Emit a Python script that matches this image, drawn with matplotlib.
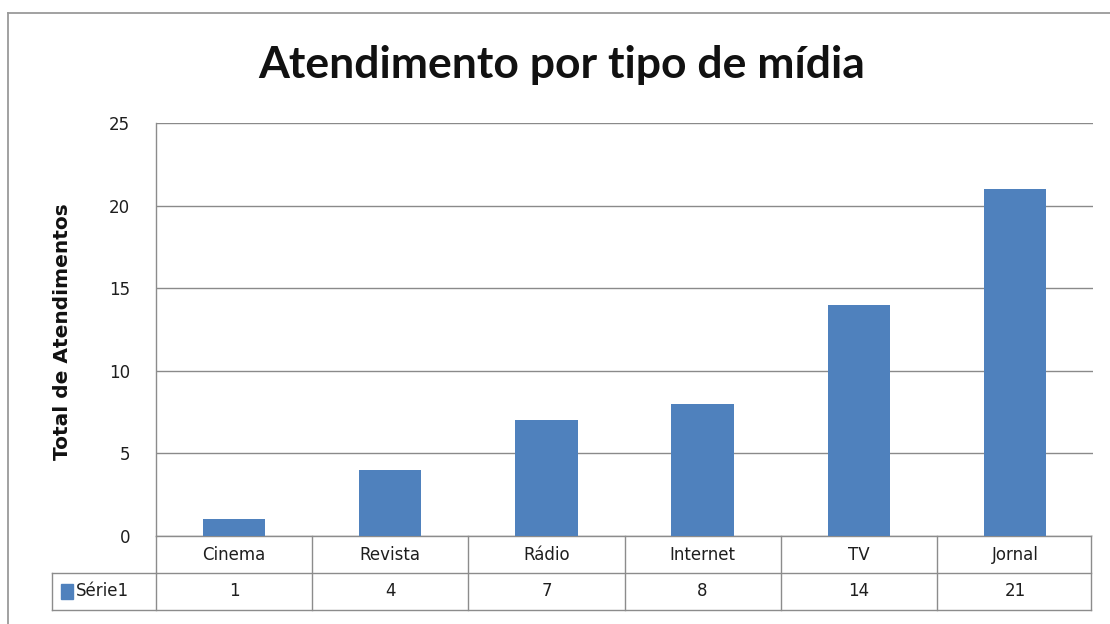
import matplotlib
matplotlib.use("Agg")
import matplotlib.pyplot as plt
from matplotlib.patches import Rectangle
from matplotlib.lines import Line2D
import numpy as np

plt.rcParams['font.family'] = ['DejaVu Sans']

categories = ["Cinema", "Revista", "Rádio", "Internet", "TV", "Jornal"]
values = [1, 4, 7, 8, 14, 21]
series_name = "Série1"
y_ticks = [0, 5, 10, 15, 20, 25]
title = "Atendimento por tipo de mídia"
y_label = "Total de Atendimentos"

bar_color = "#4F81BD"
grid_color = "#8a8a8a"
line_color = "#8c8c8c"
text_color = "#1e1e1e"
label_size = 12

W, H = 1110, 624
fig = plt.figure(figsize=(W / 100, H / 100), dpi=100)
fig.patch.set_facecolor("white")

# outer chart frame (open on right and bottom)
fig.add_artist(Line2D([8 / W, 8 / W], [0, 1 - 13 / H], transform=fig.transFigure,
                      color="#9a9a9a", lw=1.3))
fig.add_artist(Line2D([8 / W, 1], [1 - 13 / H, 1 - 13 / H], transform=fig.transFigure,
                      color="#9a9a9a", lw=1.3))

left, right, top, bottom = 156, 1093, 123, 536
ax = fig.add_axes([left / W, 1 - bottom / H, (right - left) / W, (bottom - top) / H])

x = np.arange(len(categories))
ax.bar(x, values, width=0.4, color=bar_color, zorder=3)
ax.set_xlim(-0.5, len(categories) - 0.5)
ax.set_ylim(0, 25)
ax.set_yticks(y_ticks)
ax.set_yticklabels([str(t) for t in y_ticks], fontsize=label_size, color=text_color)
ax.tick_params(axis="y", length=0, pad=18.5)
ax.set_xticks([])
ax.yaxis.grid(True, color=grid_color, lw=1.0, zorder=0)
for s in ("top", "right", "bottom"):
    ax.spines[s].set_visible(False)
ax.spines["left"].set_color(line_color)
ax.spines["left"].set_linewidth(1.0)

# data table under the plot
row_h = 37 / (bottom - top)
trans = matplotlib.transforms.blended_transform_factory(ax.transData, ax.transAxes)
legend_left = -0.5 - (left - 52) / ((right - left) / len(categories))
x_end = len(categories) - 0.5 - 0.012
lkw = dict(color=line_color, lw=1.0, clip_on=False, transform=trans)
ax.add_line(Line2D([-0.5, x_end], [-row_h, -row_h], **lkw))
ax.add_line(Line2D([legend_left, x_end], [-2 * row_h, -2 * row_h], **lkw))
ax.add_line(Line2D([-0.5, x_end], [0, 0], **lkw))
ax.add_line(Line2D([legend_left, -0.5], [-row_h, -row_h], **lkw))
ax.add_line(Line2D([legend_left, legend_left], [-row_h, -2 * row_h], **lkw))
for i in range(len(categories) + 1):
    xe = i - 0.5 if i < len(categories) else x_end
    ax.add_line(Line2D([xe, xe], [0, -2 * row_h], **lkw))

for i, (c, v) in enumerate(zip(categories, values)):
    ax.text(i, -0.5 * row_h, c, transform=trans, ha="center", va="center",
            fontsize=label_size, color=text_color, clip_on=False)
    ax.text(i, -1.5 * row_h, str(v), transform=trans, ha="center", va="center",
            fontsize=label_size, color=text_color, clip_on=False)

# legend key in the table
ax.add_patch(Rectangle((legend_left + 0.055, -1.5 * row_h - 0.017), 0.08, 0.034,
                       transform=trans, color=bar_color, clip_on=False))
ax.text(legend_left + 0.15, -1.5 * row_h, series_name, transform=trans, ha="left",
        va="center", fontsize=label_size, color=text_color, clip_on=False)

fig.text(562 / W, 1 - 65 / H, title, ha="center", va="center",
         fontsize=32, fontweight="bold", color="#111111", family="Lato")
fig.text(62 / W, 1 - 332 / H, y_label, ha="center", va="center", rotation=90,
         fontsize=14.5, fontweight="bold", color="#111111")

fig.savefig("out.png", dpi=100, facecolor="white")
